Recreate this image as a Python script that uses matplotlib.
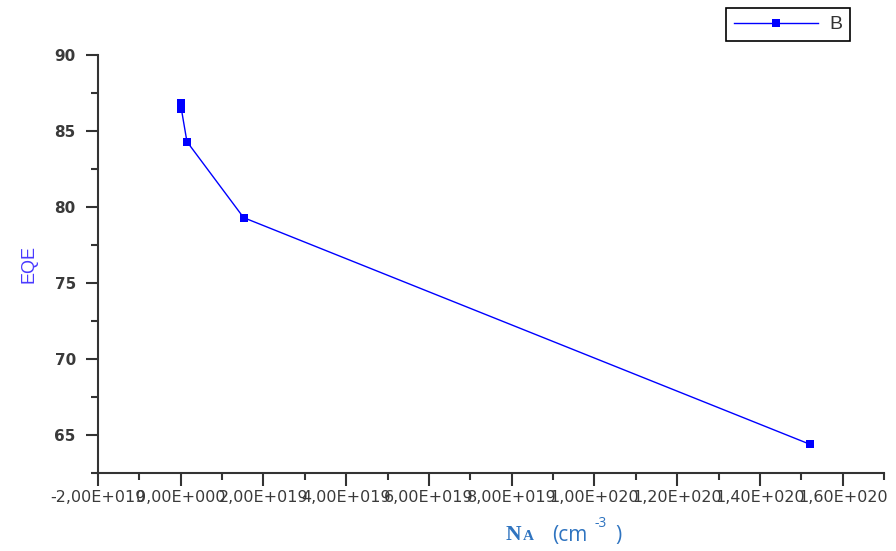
import numpy as np
import matplotlib.pyplot as plt
from matplotlib.ticker import FuncFormatter, MultipleLocator

# doping concentration (cm^-3) vs EQE (%)
na = [1.5e16, 1.5e17, 1.5e18, 1.52e19, 1.52e20]
eqe = [86.85, 86.45, 84.3, 79.3, 64.4]
series_name = 'B'

W, H = 896, 551
fig = plt.figure(figsize=(W / 100, H / 100), dpi=100)
ax = fig.add_axes([98 / W, 1 - 473 / H, (884 - 98) / W, (473 - 55) / H])

ax.plot(na, eqe, '-', color='#0000ff', linewidth=1.0, marker='s',
        markersize=6, markeredgewidth=0, label=series_name)

ax.set_xlim(-2e19, 1.7e20)
ax.set_ylim(62.5, 90)
ax.xaxis.set_major_locator(MultipleLocator(2e19))
ax.xaxis.set_minor_locator(MultipleLocator(1e19))
ax.yaxis.set_major_locator(MultipleLocator(5))
ax.yaxis.set_minor_locator(MultipleLocator(2.5))


def sci_comma(v, pos):
    if v == 0:
        return '0,00E+000'
    e = int(np.floor(np.log10(abs(v))))
    m = v / 10 ** e
    sign = '+' if e >= 0 else '-'
    return f'{m:.2f}'.replace('.', ',') + f'E{sign}{abs(e):03d}'


ax.xaxis.set_major_formatter(FuncFormatter(sci_comma))

for side in ['top', 'right']:
    ax.spines[side].set_visible(False)
for side in ['left', 'bottom']:
    ax.spines[side].set_color('#333333')
    ax.spines[side].set_linewidth(1.5)

ax.tick_params(which='major', direction='out', length=9, width=1.5,
               color='#333333', labelcolor='#3a3a3a')
ax.tick_params(which='minor', direction='out', length=5, width=1.5,
               color='#333333')
ax.tick_params(axis='x', pad=3, labelsize=11.5)
ax.tick_params(axis='y', pad=7, labelsize=11)
for lbl in ax.get_xticklabels():
    lbl.set_family('DejaVu Sans')
for lbl in ax.get_yticklabels():
    lbl.set_family('DejaVu Sans')
    lbl.set_weight('bold')

ax.set_ylabel('EQE', color='#4a3aff', fontsize=13, family='Liberation Sans',
              labelpad=12)

# x label pieces: bold serif N_A, then sans (cm-3 )
blue = '#2f74c0'
fig.text(506 / W, 1 - 540 / H, 'N', color=blue, fontsize=15.5,
         family='Liberation Serif', weight='bold')
fig.text(523 / W, 1 - 540 / H, 'A', color=blue, fontsize=11,
         family='Liberation Serif', weight='bold')
fig.text(552 / W, 1 - 541 / H, '(cm', color=blue, fontsize=15,
         family='Open Sans')
fig.text(594 / W, 1 - 527 / H, '-3', color=blue, fontsize=10,
         family='Open Sans')
fig.text(615 / W, 1 - 541 / H, ')', color=blue, fontsize=15,
         family='Open Sans')

leg = ax.legend(loc='upper right', bbox_to_anchor=(850 / W, 1 - 8 / H),
                bbox_transform=fig.transFigure, borderaxespad=0,
                fancybox=False, edgecolor='black', framealpha=1,
                handlelength=4.3, borderpad=0.4, handletextpad=0.6,
                prop={'family': 'Liberation Sans', 'size': 14})
leg.get_frame().set_linewidth(1.2)
for t in leg.get_texts():
    t.set_color('#333333')

fig.savefig('out.png', dpi=100)
